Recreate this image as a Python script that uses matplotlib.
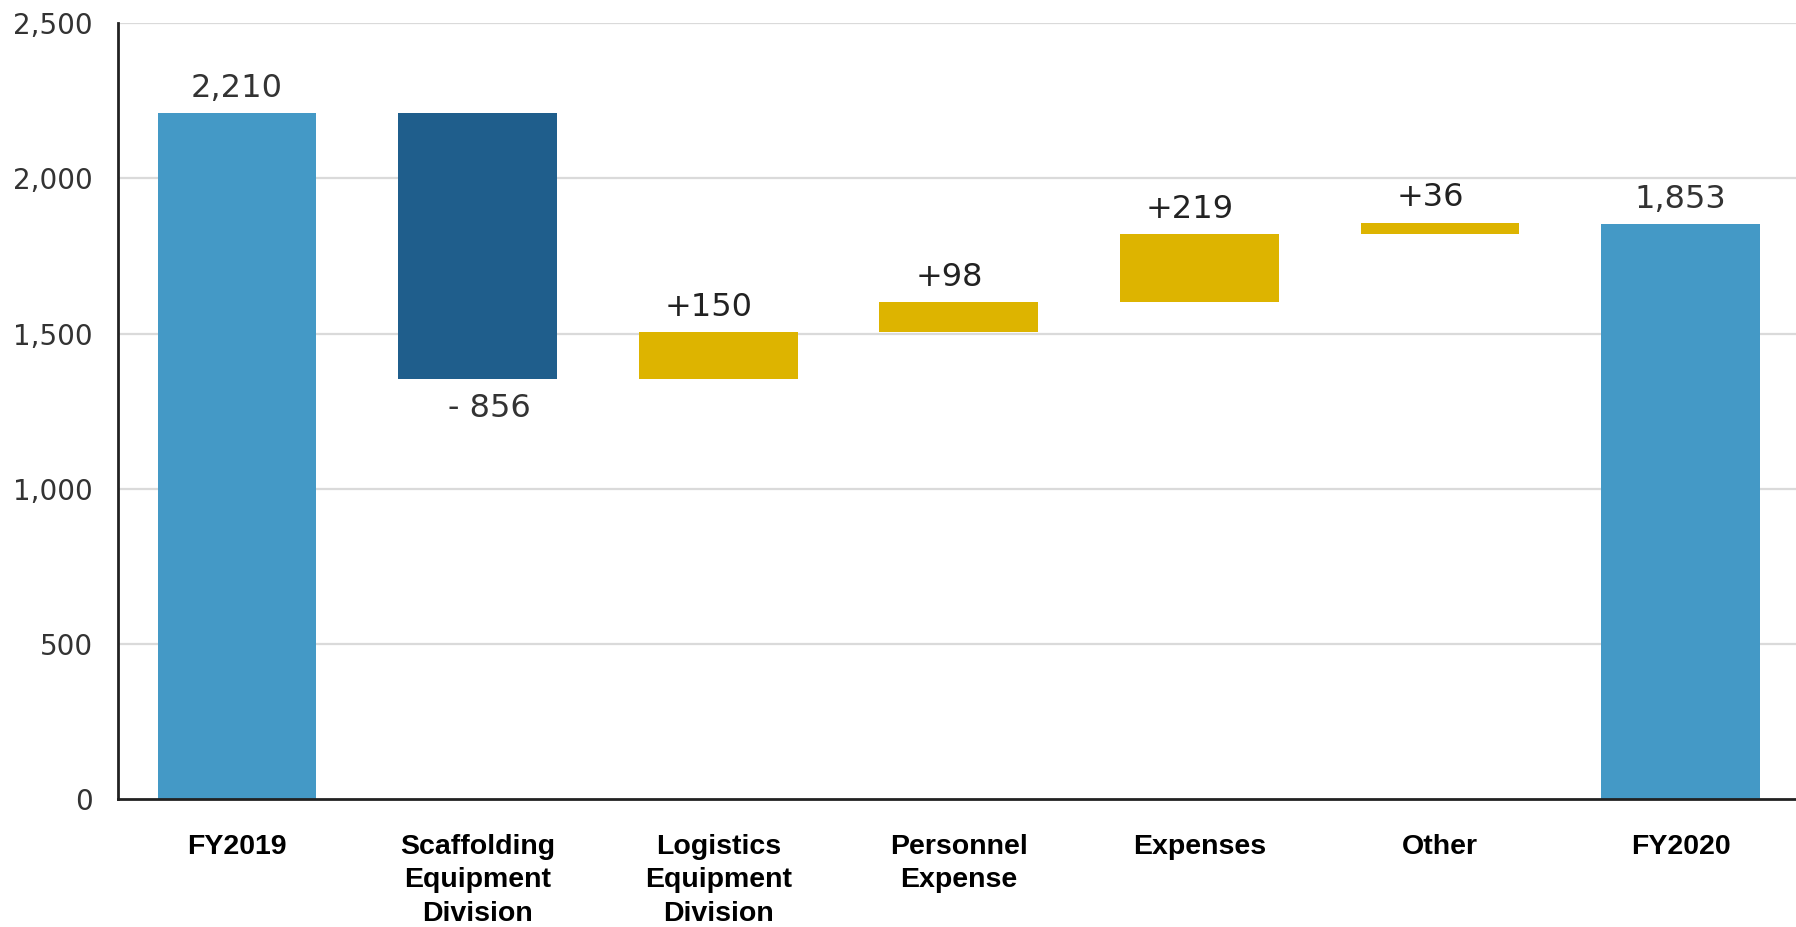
import matplotlib
matplotlib.use("Agg")
import matplotlib.pyplot as plt
from matplotlib.ticker import FuncFormatter

categories = ["FY2019", "Scaffolding\nEquipment\nDivision", "Logistics\nEquipment\nDivision",
              "Personnel\nExpense", "Expenses", "Other", "FY2020"]
start_value = 2210
changes = [-856, 150, 98, 219, 36]
end_value = 1853
y_ticks = [0, 500, 1000, 1500, 2000, 2500]

total_color = "#4499C6"
decrease_color = "#1F5E8C"
increase_color = "#DDB400"

fig = plt.figure(figsize=(17.96, 9.27), dpi=100)
ax = fig.add_axes([0.0657, 0.138, 0.9343, 0.837])

width = 0.66
n = len(categories)
label_kw = dict(fontsize=23, family="DejaVu Sans")

# opening total
ax.bar(0, start_value, width=width, color=total_color, zorder=3)
ax.text(0, start_value + 30, f"{start_value:,}", ha="center", va="bottom",
        color="#333333", **label_kw)

# floating change bars
level = start_value
for i, d in enumerate(changes, start=1):
    bottom = level if d >= 0 else level + d
    color = increase_color if d >= 0 else decrease_color
    ax.bar(i, abs(d), bottom=bottom, width=width, color=color, zorder=3)
    if d >= 0:
        ax.text(i - 0.04, level + d + 30, f"+{d}", ha="center", va="bottom",
                color="#222222", **label_kw)
    else:
        ax.text(i + 0.05, level + d - 45, f"- {abs(d)}", ha="center", va="top",
                color="#333333", **label_kw)
    level += d

# closing total
ax.bar(n - 1, end_value, width=width, color=total_color, zorder=3)
ax.text(n - 1, end_value + 30, f"{end_value:,}", ha="center", va="bottom",
        color="#333333", **label_kw)

ax.set_xlim(-0.495, 6.48)
ax.set_ylim(0, 2500)
ax.set_yticks(y_ticks)
ax.yaxis.set_major_formatter(FuncFormatter(lambda v, p: f"{int(v):,}"))
ax.tick_params(axis="y", length=0, pad=18, labelsize=20, labelcolor="#333333")
ax.tick_params(axis="x", length=0, pad=25)
ax.set_xticks(range(n))
ax.set_xticklabels(categories, fontsize=20.5, fontweight="bold", family="Liberation Sans",
                   linespacing=1.38, va="top")

for v in y_ticks[1:]:
    ax.axhline(v, color="#DADADA", linewidth=1.6, zorder=1)

for side in ("top", "right"):
    ax.spines[side].set_visible(False)
for side in ("left", "bottom"):
    ax.spines[side].set_color("#222222")
    ax.spines[side].set_linewidth(2)
    ax.spines[side].set_zorder(4)

fig.savefig("out.png", dpi=100, facecolor="white")
